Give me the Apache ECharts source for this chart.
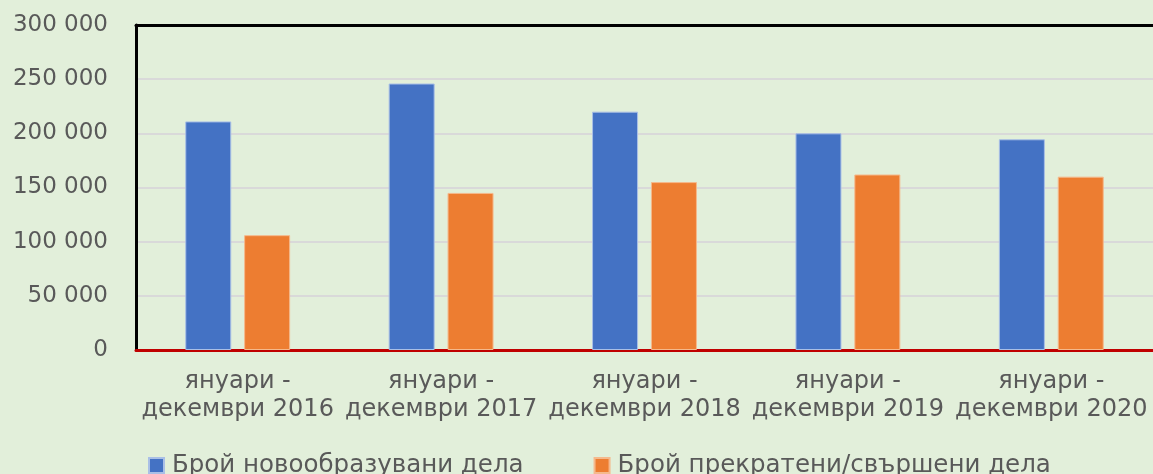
<!DOCTYPE html>
<html>
<head>
<meta charset="utf-8">
<script src="https://cdn.jsdelivr.net/npm/echarts@6/dist/echarts.min.js"></script>
<style>
  html, body { margin: 0; padding: 0; background: #e2efda; }
  #chart { width: 1153px; height: 474px; }
</style>
</head>
<body>
<div id="chart"></div>
<script>
// периоди
var categories = ['януари -\nдекември 2016', 'януари -\nдекември 2017', 'януари -\nдекември 2018',
  'януари -\nдекември 2019', 'януари -\nдекември 2020'];
// брой дела
var newCases = [211000, 246000, 220000, 200000, 194500];
var closedCases = [106000, 145000, 155000, 162000, 160000];
var yTicks = [0, 50000, 100000, 150000, 200000, 250000, 300000];
var yTickLabels = ['0', '50 000', '100 000', '150 000', '200 000', '250 000', '300 000'];

var textColor = '#595959';
var fontName = 'DejaVu Sans';

var chart = echarts.init(document.getElementById('chart'));
chart.setOption({
  backgroundColor: '#e2efda',
  animation: false,
  grid: { left: 136, top: 25, width: 1020, height: 325 },
  legend: {
    left: 143, top: 448,
    itemWidth: 15, itemHeight: 15, itemGap: 70,
    icon: 'rect',
    textStyle: { color: textColor, fontSize: 24.5, fontFamily: fontName, padding: [0, 0, 0, 3] },
    data: ['Брой новообразувани дела', 'Брой прекратени/свършени дела']
  },
  xAxis: [
    {
      type: 'category',
      data: categories,
      axisLine: { lineStyle: { color: '#c00000', width: 3 } },
      axisTick: { show: false },
      axisLabel: {
        color: textColor, fontSize: 24, fontFamily: fontName,
        lineHeight: 28, margin: 18, interval: 0
      }
    },
    {
      // горна рамка
      type: 'category',
      position: 'top',
      data: categories,
      axisLine: { lineStyle: { color: '#000', width: 3 } },
      axisTick: { show: false },
      axisLabel: { show: false }
    }
  ],
  yAxis: {
    type: 'value',
    min: yTicks[0], max: yTicks[yTicks.length - 1], interval: 50000,
    axisLine: { show: true, lineStyle: { color: '#000', width: 3 } },
    axisTick: { show: false },
    splitLine: { lineStyle: { color: '#d9d9d9', width: 2 } },
    axisLabel: {
      color: textColor, fontSize: 23, fontFamily: fontName, margin: 28,
      formatter: function (v) {
        var i = yTicks.indexOf(v);
        return i >= 0 ? yTickLabels[i] : '';
      }
    }
  },
  series: [
    {
      name: 'Брой новообразувани дела',
      type: 'bar',
      data: newCases,
      barWidth: 46,
      barGap: '28%',
      itemStyle: { color: '#4472c4', borderColor: '#a9bfe6', borderWidth: 1 }
    },
    {
      name: 'Брой прекратени/свършени дела',
      type: 'bar',
      data: closedCases,
      barWidth: 46,
      itemStyle: { color: '#ed7d31', borderColor: '#f5b98c', borderWidth: 1 }
    }
  ]
});
</script>
</body>
</html>
